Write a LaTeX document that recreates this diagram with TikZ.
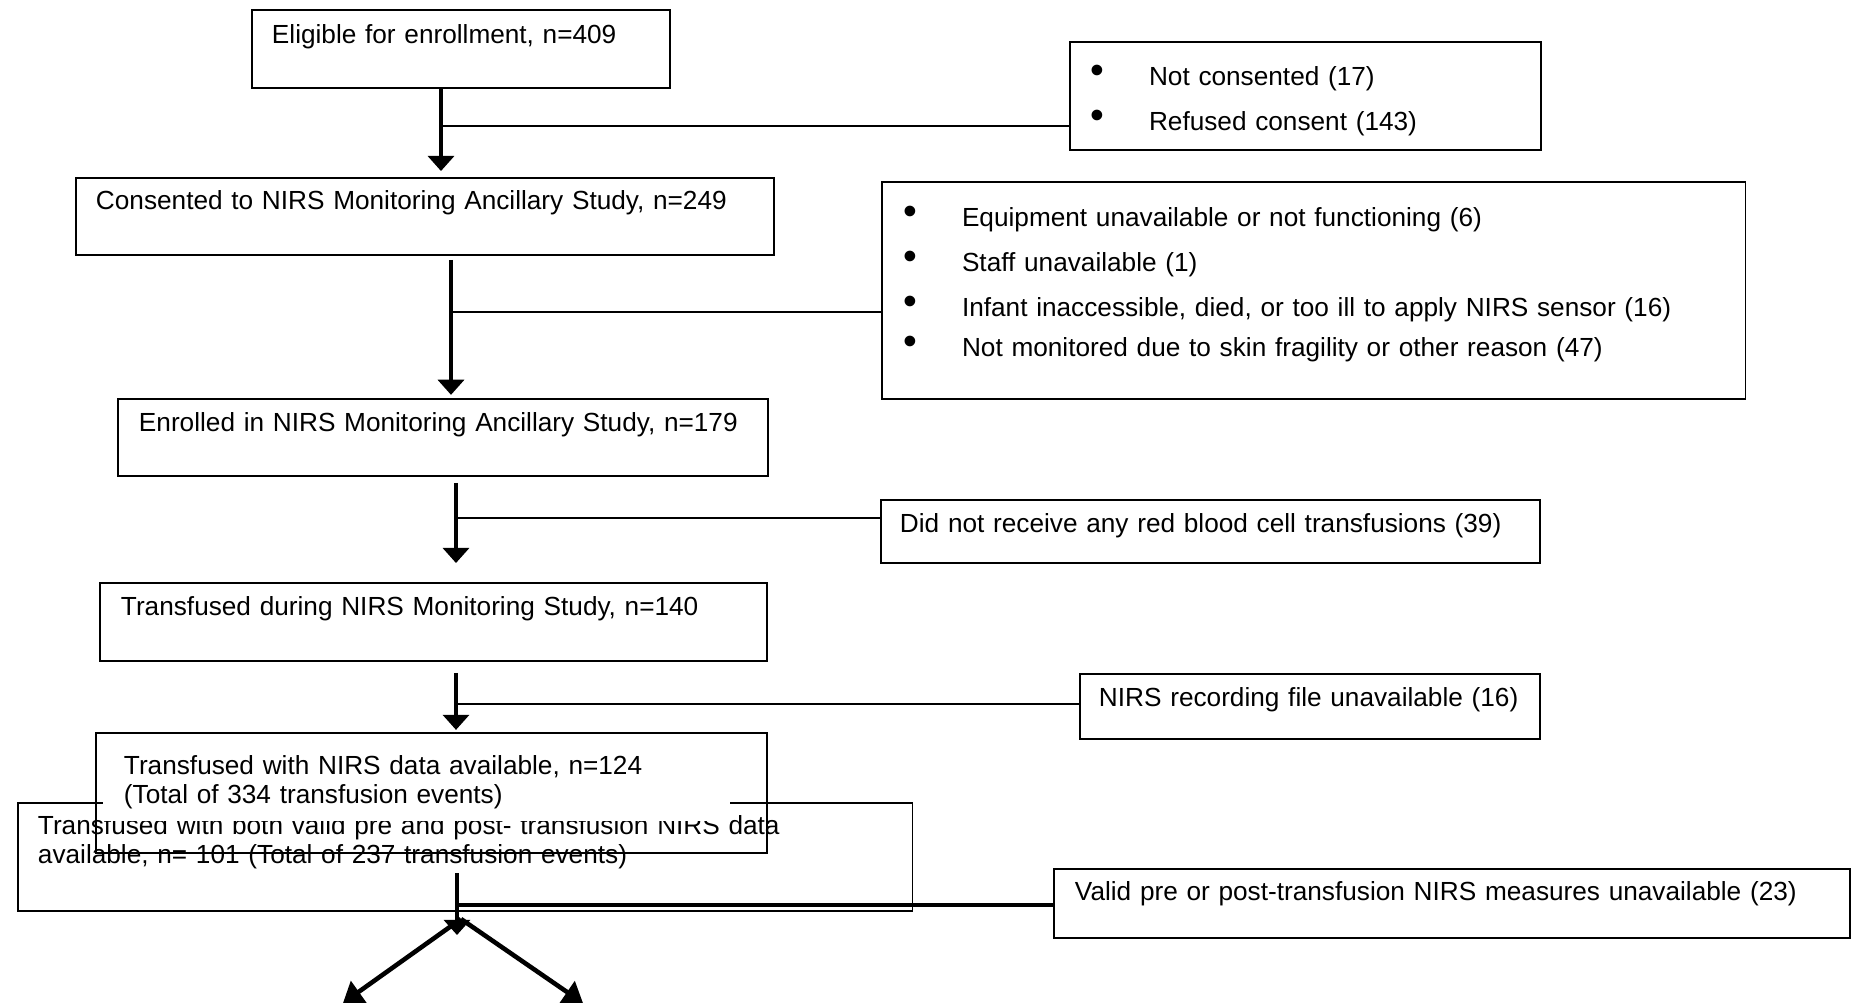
\documentclass[tikz,border=0pt]{standalone}
\usepackage{fontspec}
\usepackage{graphicx}
\setmainfont{Liberation Sans}
\usetikzlibrary{arrows.meta}
\tikzset{
  box/.style={draw, line width=0.55pt, anchor=north west, inner ysep=0pt, align=left},
  arr/.style={->, line width=1pt},
  branch/.style={line width=0.45pt},
}
\newcommand{\bul}{\makebox[0.58cm][l]{\raisebox{0.4pt}{\scalebox{1.5}{\textbullet}}}}

\begin{document}
\begin{tikzpicture}[x=0.01cm, y=-0.01cm, >={Triangle[length=4.3pt,width=7.4pt]}, font=\fontsize{7.45}{8.4}\selectfont]
	\useasboundingbox (0,0) rectangle (1854,1002);
	% main column
	\node[box, inner xsep=0.2cm, text width=3.78cm, text height=0.335cm, text depth=0.445cm] (elig) at (251,9) {Eligible for enrollment, n=409};
	\node[box, inner xsep=0.2cm, text width=6.58cm, text height=0.32cm, text depth=0.45cm] (cons) at (75,177) {Consented to NIRS Monitoring Ancillary Study, n=249};
	\node[box, inner xsep=0.21cm, text width=6.08cm, text height=0.32cm, text depth=0.45cm] (enrol) at (117,398) {Enrolled in NIRS Monitoring Ancillary Study, n=179};
	\node[box, inner xsep=0.21cm, text width=6.25cm, text height=0.32cm, text depth=0.46cm] (trans) at (99,582) {Transfused during NIRS Monitoring Study, n=140};
	\node[box, inner xsep=0.2cm, text width=8.54cm, text height=0.31cm, text depth=0.77cm, font=\fontsize{7.45}{8.53}\selectfont] (both) at (17,802) {Transfused with both valid pre and post- transfusion NIRS data\\available, n= 101 (Total of 237 transfusion events)};
	\fill[white] (103,745) rectangle (730,821);
	\node[box, inner xsep=0.28cm, text width=6.15cm, text height=0.41cm, text depth=0.79cm, font=\fontsize{7.45}{8.25}\selectfont] (nirs) at (95,732) {Transfused with NIRS data available, n=124\\(Total of 334 transfusion events)};
	% exclusions
	\node[box, inner xsep=0.21cm, text width=4.29cm, text height=0.43cm, text depth=0.65cm, font=\fontsize{7.45}{12.8}\selectfont] (nocons) at (1069,41) {\bul Not consented (17)\\\bul Refused consent (143)};
	\node[box, inner xsep=0.22cm, text width=8.19cm, text height=0.44cm, text depth=1.73cm, font=\fontsize{7.45}{12.8}\selectfont] (equip) at (881,181) {\bul Equipment unavailable or not functioning (6)\\\bul Staff unavailable (1)\\\bul Infant inaccessible, died, or too ill to apply NIRS sensor (16)\\[-1.4pt]\bul Not monitored due to skin fragility or other reason (47)};
	\node[box, inner xsep=0.19cm, text width=6.21cm, text height=0.32cm, text depth=0.31cm] (norbc) at (880,499) {Did not receive any red blood cell transfusions (39)};
	\node[box, inner xsep=0.19cm, text width=4.22cm, text height=0.32cm, text depth=0.33cm] (nofile) at (1079,673) {NIRS recording file unavailable (16)};
	\node[box, inner xsep=0.21cm, text width=7.54cm, text height=0.31cm, text depth=0.38cm] (valid) at (1053,868) {Valid pre or post-transfusion NIRS measures unavailable (23)};
	% arrows
	\draw[arr, shorten >=1.7pt] (441,0 |- elig.south) -- (441,0 |- cons.north);
	\draw[arr, shorten <=1.1pt, shorten >=0.9pt] (451,0 |- cons.south) -- (451,0 |- enrol.north);
	\draw[arr, shorten <=1.7pt, shorten >=5.4pt] (456,0 |- enrol.south) -- (456,0 |- trans.north);
	\draw[arr, shorten <=3.1pt, shorten >=0.6pt] (456,0 |- trans.south) -- (456,0 |- nirs.north);
	\coordinate (top5) at (457,873);
	\coordinate (end5) at (457,935);
	\coordinate (fork) at (461,919);
	\coordinate (outL) at (343,1003);
	\coordinate (outR) at (583,1003);
	\draw[arr] (top5) -- (end5);
	% branches
	\draw[branch] (441,126) -- (441,126 -| nocons.west);
	\draw[branch] (451,312) -- (451,312 -| equip.west);
	\draw[branch] (456,518) -- (456,518 -| norbc.west);
	\draw[branch] (457,704) -- (457,704 -| nofile.west);
	\draw[line width=1.1pt] (457,905) -- (457,905 -| valid.west);
	\begin{scope}
		\clip (0,0) rectangle (1854,1002);
		\draw[line width=1.3pt, -{Triangle[length=5.5pt,width=7.4pt]}] (fork) -- (outL);
		\draw[line width=1.3pt, -{Triangle[length=5.5pt,width=7.4pt]}] (fork) -- (outR);
	\end{scope}
\end{tikzpicture}
\end{document}
